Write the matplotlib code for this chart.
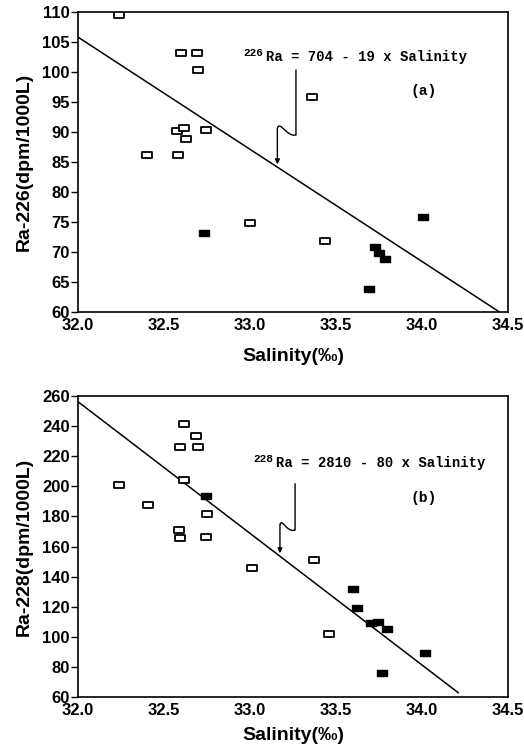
import matplotlib.pyplot as plt
from matplotlib.path import Path
from matplotlib.patches import PathPatch

# --- panel (a): Ra-226 ---
a_open_x = [32.24, 32.597, 32.69, 32.70, 33.359, 32.577, 32.616, 32.628, 32.742,
            32.403, 32.583, 33.0, 33.436]
a_open_y = [109.5, 103.1, 103.1, 100.3, 95.9, 90.2, 90.6, 88.9, 90.3,
            86.2, 86.1, 74.8, 71.9]
a_fill_x = [32.734, 34.004, 33.729, 33.752, 33.785, 33.69]
a_fill_y = [73.1, 75.8, 70.8, 69.8, 68.8, 63.8]
a_line_x = [32.0, 34.45]
a_line_y = [105.8, 60.0]
a_iso = "226"
a_eq = "Ra = 704 - 19 x Salinity"
a_yticks = list(range(60, 111, 5))

# --- panel (b): Ra-228 ---
b_open_x = [32.618, 32.593, 32.686, 32.70, 32.24, 32.616, 32.405, 32.752,
            32.587, 32.593, 32.746, 33.012, 33.37, 33.457]
b_open_y = [241.4, 226.3, 233.4, 226.3, 201.1, 204.2, 187.4, 181.4,
            171.0, 165.4, 166.1, 145.7, 151.0, 102.0]
b_fill_x = [32.742, 33.597, 33.620, 33.703, 33.742, 33.798, 34.017, 33.769]
b_fill_y = [193.8, 131.5, 119.3, 109.4, 110.0, 105.2, 89.0, 76.1]
b_line_x = [32.0, 34.21]
b_line_y = [256.2, 62.9]
b_iso = "228"
b_eq = "Ra = 2810 - 80 x Salinity"
b_yticks = list(range(60, 261, 20))

xticks = [32.0, 32.5, 33.0, 33.5, 34.0, 34.5]

# 注記の矢印（縦線 → 波形 → 矢じり）
a_arrow = dict(x0=33.267, top=100.4, bot=89.5,
               c1=(33.213, 89.1), c2=(33.174, 92.0), end=(33.159, 90.6), tip=84.6)
b_arrow = dict(x0=33.262, top=202.0, bot=171.0,
               c1=(33.213, 168.8), c2=(33.184, 179.8), end=(33.174, 174.3), tip=155.5)

# 横長の四角マーカー
rect = Path([(-1, -0.72), (1, -0.72), (1, 0.72), (-1, 0.72), (-1, -0.72)],
            [Path.MOVETO, Path.LINETO, Path.LINETO, Path.LINETO, Path.CLOSEPOLY])

plt.rcParams['font.family'] = ['Liberation Sans', 'DejaVu Sans']
mono = ['Liberation Mono', 'DejaVu Sans Mono']

fig = plt.figure(figsize=(5.24, 7.55), dpi=100)
ax1 = fig.add_axes([0.1489, 0.5868, 0.8206, 0.3974])
ax2 = fig.add_axes([0.1489, 0.0768, 0.8206, 0.3987])


def draw_panel(ax, ox, oy, fx, fy, lx, ly, iso, eq, eq_xy, tag, tag_xy, arr,
               yticks, ylabel, xlabelpad):
    ax.plot(lx, ly, color='black', lw=1.1, zorder=2)
    ax.plot(ox, oy, linestyle='none', marker=rect, markersize=7,
            markerfacecolor='white', markeredgecolor='black',
            markeredgewidth=1.3, zorder=3)
    ax.plot(fx, fy, linestyle='none', marker=rect, markersize=7,
            markerfacecolor='black', markeredgecolor='black', zorder=3)

    # 式（同位体の質量数は小さく上付き）と矢印
    ax.annotate(iso, xy=eq_xy, xytext=(0, 2.5), textcoords='offset points',
                family=mono, fontsize=8, fontweight='bold',
                ha='left', va='center')
    ax.annotate(eq, xy=eq_xy, xytext=(16.5, 0), textcoords='offset points',
                family=mono, fontsize=10, fontweight='bold',
                ha='left', va='center')
    ax.text(tag_xy[0], tag_xy[1], tag, family=mono, fontsize=10.5,
            fontweight='bold', ha='center', va='center')
    verts = [(arr['x0'], arr['top']), (arr['x0'], arr['bot']),
             arr['c1'], arr['c2'], arr['end']]
    codes = [Path.MOVETO, Path.LINETO, Path.CURVE4, Path.CURVE4, Path.CURVE4]
    ax.add_patch(PathPatch(Path(verts, codes), facecolor='none',
                           edgecolor='black', lw=1.0))
    ax.annotate('', xy=(arr['end'][0], arr['tip']), xytext=arr['end'],
                arrowprops=dict(arrowstyle='-|>', color='black', lw=1.0,
                                mutation_scale=7, shrinkA=0, shrinkB=0))

    ax.set_xlim(32.0, 34.5)
    ax.set_ylim(yticks[0], yticks[-1])
    ax.set_xticks(xticks)
    ax.set_xticklabels(['%.1f' % t for t in xticks])
    ax.set_yticks(yticks)
    ax.tick_params(axis='x', length=0, pad=4.5, labelsize=12)
    ax.tick_params(axis='y', length=5, width=1, pad=1, labelsize=12)
    for lab in ax.get_xticklabels() + ax.get_yticklabels():
        lab.set_fontweight('bold')
    for sp in ax.spines.values():
        sp.set_linewidth(1.2)
    ax.set_xlabel('Salinity(‰)', fontsize=14, fontweight='bold',
                  labelpad=xlabelpad)
    ax.set_ylabel(ylabel, fontsize=14, fontweight='bold', labelpad=7)


draw_panel(ax1, a_open_x, a_open_y, a_fill_x, a_fill_y, a_line_x, a_line_y,
           a_iso, a_eq, (32.96, 102.55), '(a)', (34.008, 96.9), a_arrow,
           a_yticks, 'Ra-226(dpm/1000L)', 11)
draw_panel(ax2, b_open_x, b_open_y, b_fill_x, b_fill_y, b_line_x, b_line_y,
           b_iso, b_eq, (33.02, 215.7), '(b)', (34.008, 192.0), b_arrow,
           b_yticks, 'Ra-228(dpm/1000L)', 6)

plt.savefig('out.png', dpi=100)
